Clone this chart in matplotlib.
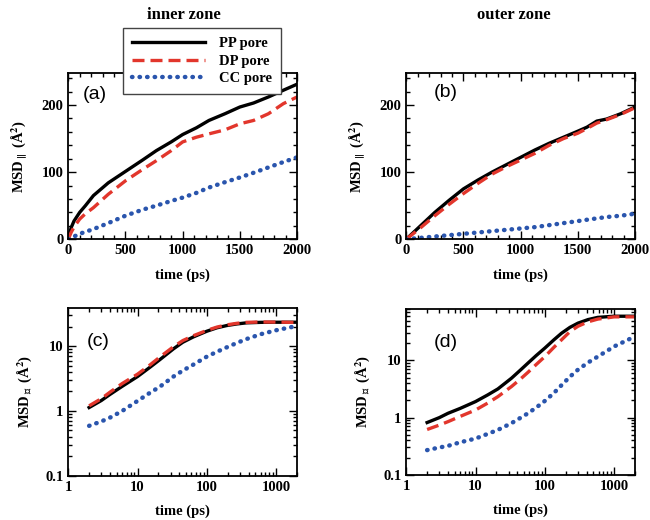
import matplotlib
matplotlib.use('Agg')
import matplotlib.pyplot as plt
from matplotlib.ticker import AutoMinorLocator, LogLocator, NullFormatter

plt.rcParams['font.family'] = ['Liberation Serif', 'DejaVu Serif']
plt.rcParams['font.weight'] = 'bold'
plt.rcParams['mathtext.fontset'] = 'stix'

# series names
labels = ['PP pore', 'DP pore', 'CC pore']

# (a) inner zone, parallel MSD, linear time
t_a = [0, 25, 50, 100, 150, 220, 350, 500, 650, 770, 900, 1000, 1120,
       1230, 1370, 1500, 1620, 1750, 1880, 2000]
pp_a = [0, 17, 27, 40, 50, 65, 84, 101, 118, 132, 145, 156, 166, 177, 187,
        197, 203, 212, 222, 231]
dp_a = [0, 10, 18, 30, 38, 47, 67, 87, 104, 117, 132, 145, 152, 157, 163,
        172, 177, 187, 202, 212]
cc_a = [0, 2, 4, 8, 11, 15, 24, 35, 44, 50, 57, 62, 69, 77, 85, 92, 99, 107,
        115, 122]

# (b) outer zone, parallel MSD, linear time
t_b = [0, 125, 250, 375, 500, 625, 750, 875, 1000, 1125, 1250, 1375, 1500,
       1580, 1665, 1750, 1875, 2000]
pp_b = [0, 20, 40, 58, 75, 88, 100, 111, 122, 133, 143, 152, 161, 167, 176,
        179, 187, 197]
dp_b = [0, 17, 35, 52, 68, 83, 97, 108, 118, 128, 140, 150, 158, 165, 173,
        178, 186, 196]
cc_b = [0, 2, 4, 6, 8, 10, 12, 14, 16, 18, 21, 24, 27, 29, 31, 33, 35, 38]

# (c) inner zone, perpendicular MSD, log time
t_c = [2, 3, 4, 6, 10, 15, 21, 33, 45, 64, 100, 140, 194, 270, 375, 600,
       1000, 2000]
pp_c = [1.13, 1.45, 1.8, 2.4, 3.4, 4.7, 6.2, 9.1, 11.5, 13.9, 17, 19.2, 20.8,
        22.0, 22.9, 23.3, 23.4, 23.4]
dp_c = [1.2, 1.55, 1.95, 2.65, 3.7, 5.1, 6.8, 9.8, 12.2, 14.5, 17.5, 19.7,
        21.3, 22.5, 23.3, 23.6, 23.5, 23.2]
cc_c = [0.59, 0.69, 0.79, 1.0, 1.43, 1.9, 2.37, 3.4, 4.2, 5.2, 6.9, 8.2, 9.6,
        11.2, 12.9, 15.3, 17.6, 20.5]

# (d) outer zone, perpendicular MSD, log time
t_d = [2, 3, 4, 6, 10, 15, 21, 33, 45, 57, 75, 100, 135, 174, 230, 300, 420,
       580, 1000, 2000]
pp_d = [0.82, 1.0, 1.19, 1.45, 1.91, 2.5, 3.18, 4.9, 6.9, 9.0, 12.2, 16.5,
        23, 30, 38, 45, 52, 56.8, 59.5, 59.5]
dp_d = [0.62, 0.74, 0.85, 1.05, 1.36, 1.8, 2.33, 3.5, 4.8, 6.2, 8.5, 11.7,
        17, 23, 32, 39.7, 47.5, 53, 58, 58]
cc_d = [0.27, 0.30, 0.32, 0.37, 0.43, 0.52, 0.61, 0.80, 1.0, 1.19, 1.5, 1.96,
        2.7, 3.7, 5.2, 6.9, 9.2, 11.7, 17.6, 26.4]

red = '#e2362c'
blue = '#2a55ad'
styles = [dict(color='black', lw=2.4, ls='-'),
          dict(color=red, lw=2.4, ls=(0, (3.6, 1.8))),
          dict(color=blue, lw=3.2, ls=(0, (0.1, 1.6)), dash_capstyle='round')]

fig = plt.figure(figsize=(6.5, 5.2), dpi=100)
ax_a = fig.add_axes([0.105, 0.540, 0.352, 0.320])
ax_b = fig.add_axes([0.625, 0.540, 0.352, 0.320])
ax_c = fig.add_axes([0.105, 0.085, 0.352, 0.323])
ax_d = fig.add_axes([0.625, 0.087, 0.352, 0.319])

panels = [
    (ax_a, t_a, [pp_a, dp_a, cc_a], '(a)', (0.065, 0.87)),
    (ax_b, t_b, [pp_b, dp_b, cc_b], '(b)', (0.12, 0.88)),
    (ax_c, t_c, [pp_c, dp_c, cc_c], '(c)', (0.083, 0.80)),
    (ax_d, t_d, [pp_d, dp_d, cc_d], '(d)', (0.12, 0.80)),
]

lines = []
for ax, t, series, tag, pos in panels:
    for y, st, lab in zip(series, styles, labels):
        ln, = ax.plot(t, y, label=lab, **st)
        if ax is ax_a:
            lines.append(ln)
    ax.text(pos[0], pos[1], tag, transform=ax.transAxes, fontsize=14,
            family='Liberation Sans', fontweight='normal', va='center')
    ax.tick_params(which='both', direction='in', top=True, right=True,
                   labelsize=10.5, width=1)
    ax.tick_params(which='major', length=6)
    ax.tick_params(which='minor', length=3)
    for sp in ax.spines.values():
        sp.set_linewidth(1.3)

# linear panels
for ax in (ax_a, ax_b):
    ax.set_xlim(0, 2000)
    ax.set_ylim(0, 248)
    ax.set_xticks([0, 500, 1000, 1500, 2000])
    ax.set_yticks([0, 100, 200])
    ax.xaxis.set_minor_locator(AutoMinorLocator(5))
    ax.yaxis.set_minor_locator(AutoMinorLocator(5))
    ax.set_xlabel('time (ps)', fontsize=10.5, fontweight='bold', labelpad=8)
    ax.set_ylabel(r'MSD$_{\parallel}$ (Å$^{2}$)', fontsize=10.5,
                  fontweight='bold', labelpad=8)

# log panels
for ax, ytop in ((ax_c, 39), (ax_d, 80)):
    ax.set_xscale('log')
    ax.set_yscale('log')
    ax.set_xlim(1, 2000)
    ax.set_ylim(0.1, ytop)
    ax.set_xticks([1, 10, 100, 1000])
    ax.set_xticklabels(['1', '10', '100', '1000'])
    ax.set_yticks([0.1, 1, 10])
    ax.set_yticklabels(['0.1', '1', '10'])
    ax.xaxis.set_minor_locator(LogLocator(base=10, subs=range(2, 10)))
    ax.yaxis.set_minor_locator(LogLocator(base=10, subs=range(2, 10)))
    ax.xaxis.set_minor_formatter(NullFormatter())
    ax.yaxis.set_minor_formatter(NullFormatter())
    ax.set_xlabel('time (ps)', fontsize=10.5, fontweight='bold', labelpad=8)
    ax.set_ylabel(r'MSD$_{\perp}$ (Å$^{2}$)', fontsize=10.5,
                  fontweight='bold', labelpad=8)

fig.text(0.283, 0.971, 'inner zone', ha='center', va='center',
         fontsize=12, fontweight='bold')
fig.text(0.79, 0.971, 'outer zone', ha='center', va='center',
         fontsize=12, fontweight='bold')

leg = fig.legend(handles=lines, loc='upper left',
                 bbox_to_anchor=(0.189, 0.946), borderaxespad=0,
                 fontsize=10.5, handlelength=5.0, frameon=True,
                 fancybox=False, borderpad=0.6, labelspacing=0.3,
                 handletextpad=1.0)
leg.get_frame().set_edgecolor('#444444')
leg.get_frame().set_linewidth(1.0)
leg.get_frame().set_alpha(1)

fig.savefig('out.png', dpi=100)
